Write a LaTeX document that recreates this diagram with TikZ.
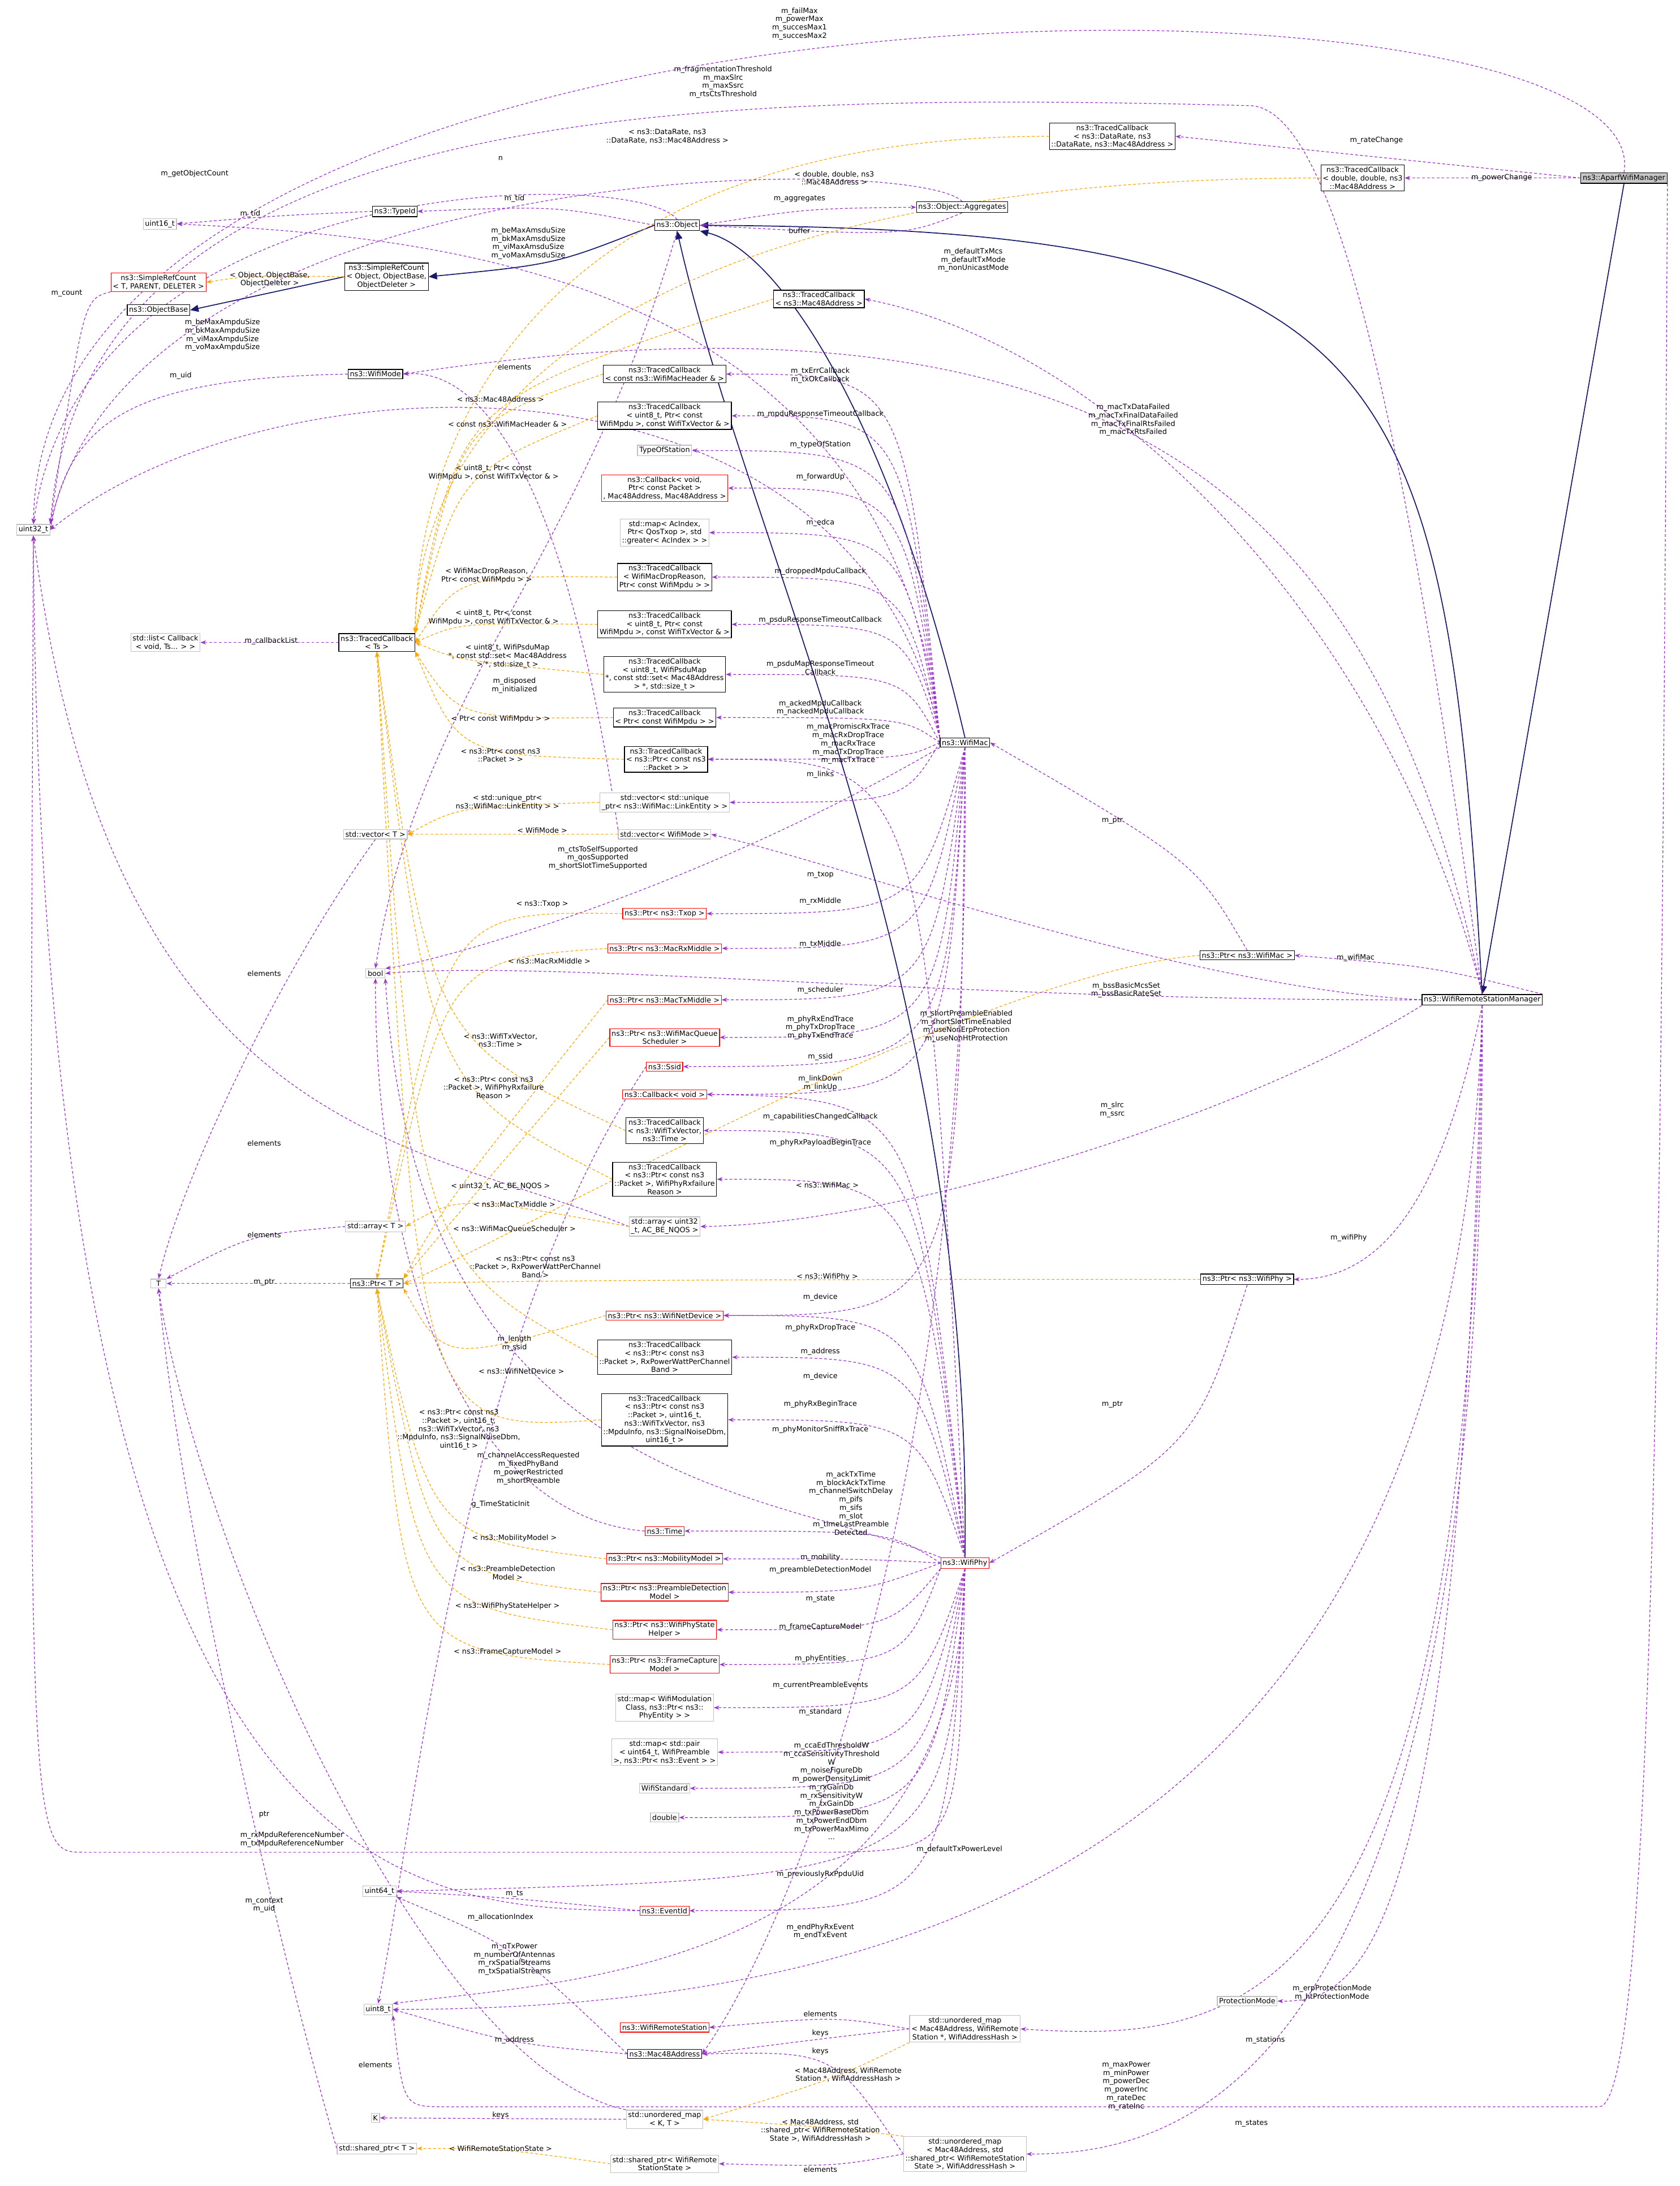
\documentclass[tikz,border=0pt]{standalone}
\usepackage{fontspec}
\setmainfont{DejaVu Sans}
\usetikzlibrary{arrows.meta}
\definecolor{ep}{HTML}{9A32CD}
\definecolor{eo}{HTML}{FFA500}
\definecolor{eb}{HTML}{191970}
\definecolor{gb}{HTML}{BFBFBF}
\pgfdeclarelayer{bg}
\pgfsetlayers{bg,main}
\tikzset{
 nb/.style={draw=black,fill=white,align=center,inner sep=1.3pt,font=\fontsize{5.2}{6}\selectfont,line width=0.5pt},
 gn/.style={nb,draw=gb},
 rn/.style={nb,draw=red},
 lab/.style={align=center,inner sep=0pt,font=\fontsize{5.2}{6}\selectfont},
 e/.style={draw=ep,dash pattern=on 2pt off 1.5pt,line width=0.5pt,-{Stealth[length=4pt,width=3pt]}},
 o/.style={e,draw=eo},
 inh/.style={draw=eb,line width=0.7pt,-{Triangle[length=6pt,width=5pt,fill=eb]}},
}
\newcommand\mm[4]{\draw[e] (#1) .. controls (#2,#3) .. (#4.east);}
\newcommand\ot[3]{\draw[o] (#1.west) .. controls (#2,#3) .. }
\begin{document}
\begin{tikzpicture}[x=1pt,y=-1pt]
\useasboundingbox (0,0) rectangle (1208,1572);
% nodes
\node[nb,fill=gray!45] (ap) at (1168,128) {ns3::AparfWifiManager};
\node[nb] (tcdr) at (800,98) {ns3::TracedCallback\\< ns3::DataRate, ns3\\::DataRate, ns3::Mac48Address >};
\node[nb] (tcdd) at (980,128) {ns3::TracedCallback\\< double, double, ns3\\::Mac48Address >};
\node[gn] (u32) at (24,381) {uint32\_t};
\node[gn] (u16) at (115,161) {uint16\_t};
\node[nb] (tid) at (284,152) {ns3::TypeId};
\node[nb] (obj) at (487,162) {ns3::Object};
\node[nb] (agg) at (692,149) {ns3::Object::Aggregates};
\node[rn] (srct) at (114,203) {ns3::SimpleRefCount\\< T, PARENT, DELETER >};
\node[nb] (src) at (278,199) {ns3::SimpleRefCount\\< Object, ObjectBase,\\ObjectDeleter >};
\node[nb] (ob) at (114,223) {ns3::ObjectBase};
\node[nb] (tcm) at (589,215) {ns3::TracedCallback\\< ns3::Mac48Address >};
\node[nb] (wmode) at (270,269) {ns3::WifiMode};
\node[nb] (tch) at (478,269) {ns3::TracedCallback\\< const ns3::WifiMacHeader \& >};
\node[nb] (tcu1) at (478,299) {ns3::TracedCallback\\< uint8\_t, Ptr< const\\ WifiMpdu >, const WifiTxVector \& >};
\node[gn] (tos) at (478,324) {TypeOfStation};
\node[rn] (cbfw) at (478,351) {ns3::Callback< void,\\ Ptr< const Packet >\\, Mac48Address, Mac48Address >};
\node[gn] (edca) at (478,383) {std::map< AcIndex,\\ Ptr< QosTxop >, std\\::greater< AcIndex > >};
\node[nb] (tcdrop) at (478,415) {ns3::TracedCallback\\< WifiMacDropReason,\\ Ptr< const WifiMpdu > >};
\node[nb] (tcu2) at (478,449) {ns3::TracedCallback\\< uint8\_t, Ptr< const\\ WifiMpdu >, const WifiTxVector \& >};
\node[nb] (tcpm) at (478,485) {ns3::TracedCallback\\< uint8\_t, WifiPsduMap\\ *, const std::set< Mac48Address\\ > *, std::size\_t >};
\node[nb] (tcmp) at (478,516) {ns3::TracedCallback\\< Ptr< const WifiMpdu > >};
\node[nb] (tcpk) at (479,546) {ns3::TracedCallback\\< ns3::Ptr< const ns3\\::Packet > >};
\node[gn] (vle) at (478,577) {std::vector< std::unique\\\_ptr< ns3::WifiMac::LinkEntity > >};
\node[gn] (vwm) at (478,600) {std::vector< WifiMode >};
\node[rn] (ptxop) at (478,657) {ns3::Ptr< ns3::Txop >};
\node[rn] (prx) at (478,682) {ns3::Ptr< ns3::MacRxMiddle >};
\node[rn] (ptx) at (478,719) {ns3::Ptr< ns3::MacTxMiddle >};
\node[rn] (psch) at (478,746) {ns3::Ptr< ns3::WifiMacQueue\\Scheduler >};
\node[rn] (ssid) at (478,767) {ns3::Ssid};
\node[rn] (cbv) at (478,787) {ns3::Callback< void >};
\node[nb] (tctv) at (478,813) {ns3::TracedCallback\\< ns3::WifiTxVector,\\ ns3::Time >};
\node[nb] (tcrf) at (478,848) {ns3::TracedCallback\\< ns3::Ptr< const ns3\\::Packet >, WifiPhyRxfailure\\Reason >};
\node[gn] (arrq) at (478,882) {std::array< uint32\\\_t, AC\_BE\_NQOS >};
\node[rn] (pnd) at (478,946) {ns3::Ptr< ns3::WifiNetDevice >};
\node[nb] (tcrp) at (478,976) {ns3::TracedCallback\\< ns3::Ptr< const ns3\\::Packet >, RxPowerWattPerChannel\\Band >};
\node[nb] (tc5) at (478,1021) {ns3::TracedCallback\\< ns3::Ptr< const ns3\\::Packet >, uint16\_t,\\ ns3::WifiTxVector, ns3\\::MpduInfo, ns3::SignalNoiseDbm,\\ uint16\_t >};
\node[rn] (time) at (478,1101) {ns3::Time};
\node[rn] (pmob) at (478,1121) {ns3::Ptr< ns3::MobilityModel >};
\node[rn] (ppd) at (478,1145) {ns3::Ptr< ns3::PreambleDetection\\Model >};
\node[rn] (pst) at (478,1172) {ns3::Ptr< ns3::WifiPhyState\\Helper >};
\node[rn] (pfc) at (478,1197) {ns3::Ptr< ns3::FrameCapture\\Model >};
\node[gn] (mpe) at (478,1228) {std::map< WifiModulation\\Class, ns3::Ptr< ns3::\\PhyEntity > >};
\node[gn] (mpp) at (478,1260) {std::map< std::pair\\< uint64\_t, WifiPreamble\\ >, ns3::Ptr< ns3::Event > >};
\node[gn] (wstd) at (478,1286) {WifiStandard};
\node[gn] (dbl) at (478,1307) {double};
\node[gn] (u64) at (273,1360) {uint64\_t};
\node[rn] (evid) at (478,1374) {ns3::EventId};
\node[gn] (u8) at (272,1445) {uint8\_t};
\node[rn] (wrs) at (478,1458) {ns3::WifiRemoteStation};
\node[nb] (mac) at (478,1477) {ns3::Mac48Address};
\node[gn] (umkt) at (478,1524) {std::unordered\_map\\< K, T >};
\node[gn] (K) at (270,1523) {K};
\node[gn] (spt) at (271,1545) {std::shared\_ptr< T >};
\node[gn] (sps) at (478,1556) {std::shared\_ptr< WifiRemote\\StationState >};
\node[nb] (tcts) at (271,462) {ns3::TracedCallback\\< Ts >};
\node[gn] (lst) at (119,462) {std::list< Callback\\< void, Ts... > >};
\node[gn] (vt) at (270,600) {std::vector< T >};
\node[gn] (bool) at (270,700) {bool};
\node[gn] (at) at (270,882) {std::array< T >};
\node[gn,minimum width=11pt] (T) at (114,923) {T};
\node[nb] (pt) at (271,923) {ns3::Ptr< T >};
\node[nb] (wm) at (694,534) {ns3::WifiMac};
\node[nb] (wrsm) at (1066,719) {ns3::WifiRemoteStationManager};
\node[nb] (pwm) at (897,687) {ns3::Ptr< ns3::WifiMac >};
\node[nb] (pwp) at (897,920) {ns3::Ptr< ns3::WifiPhy >};
\node[rn] (wp) at (694,1124) {ns3::WifiPhy};
\node[gn] (pm) at (897,1439) {ProtectionMode};
\node[gn] (ums) at (694,1459) {std::unordered\_map\\< Mac48Address, WifiRemote\\Station *, WifiAddressHash >};
\node[gn] (umst) at (694,1549) {std::unordered\_map\\< Mac48Address, std\\::shared\_ptr< WifiRemoteStation\\State >, WifiAddressHash >};

% labels
\node[lab] (l1) at (575,17) {m\_failMax\\m\_powerMax\\m\_succesMax1\\m\_succesMax2};
\node[lab] (l2) at (990,101) {m\_rateChange};
\node[lab] (l3) at (1080,128) {m\_powerChange};
\node[lab] (l4) at (810,1500) {m\_maxPower\\m\_minPower\\m\_powerDec\\m\_powerInc\\m\_rateDec\\m\_rateInc};
\node[lab] (l5) at (520,59) {m\_fragmentationThreshold\\m\_maxSlrc\\m\_maxSsrc\\m\_rtsCtsThreshold};
\node[lab] (l6) at (700,187) {m\_defaultTxMcs\\m\_defaultTxMode\\m\_nonUnicastMode};
\node[lab] (l7) at (815,302) {m\_macTxDataFailed\\m\_macTxFinalDataFailed\\m\_macTxFinalRtsFailed\\m\_macTxRtsFailed};
\node[lab] (l8) at (975,689) {m\_wifiMac};
\node[lab] (l9) at (810,712) {m\_bssBasicMcsSet\\m\_bssBasicRateSet};
\node[lab] (l10) at (695,738) {m\_shortPreambleEnabled\\m\_shortSlotTimeEnabled\\m\_useNonErpProtection\\m\_useNonHtProtection};
\node[lab] (l11) at (800,798) {m\_slrc\\m\_ssrc};
\node[lab] (l12) at (970,890) {m\_wifiPhy};
\node[lab] (l13) at (690,1330) {m\_defaultTxPowerLevel};
\node[lab] (l14) at (958,1433) {m\_erpProtectionMode\\m\_htProtectionMode};
\node[lab] (l15) at (910,1467) {m\_stations};
\node[lab] (l16) at (900,1527) {m\_states};
\node[lab] (l17) at (800,590) {m\_ptr};
\node[lab] (l18) at (800,1010) {m\_ptr};
\node[lab] (l19) at (595,852) {< ns3::WifiMac >};
\node[lab] (l20) at (595,918) {< ns3::WifiPhy >};
\node[lab] (l21) at (590,270) {m\_txErrCallback\\m\_txOkCallback};
\node[lab] (l22) at (590,298) {m\_mpduResponseTimeoutCallback};
\node[lab] (l23) at (590,320) {m\_typeOfStation};
\node[lab] (l24) at (590,343) {m\_forwardUp};
\node[lab] (l25) at (590,376) {m\_edca};
\node[lab] (l26) at (590,411) {m\_droppedMpduCallback};
\node[lab] (l27) at (590,446) {m\_psduResponseTimeoutCallback};
\node[lab] (l28) at (590,480) {m\_psduMapResponseTimeout\\Callback};
\node[lab] (l29) at (590,509) {m\_ackedMpduCallback\\m\_nackedMpduCallback};
\node[lab] (l30) at (610,535) {m\_macPromiscRxTrace\\m\_macRxDropTrace\\m\_macRxTrace\\m\_macTxDropTrace\\m\_macTxTrace};
\node[lab] (l31) at (590,557) {m\_links};
\node[lab] (l32) at (430,617) {m\_ctsToSelfSupported\\m\_qosSupported\\m\_shortSlotTimeSupported};
\node[lab] (l33) at (590,629) {m\_txop};
\node[lab] (l34) at (590,648) {m\_rxMiddle};
\node[lab] (l35) at (590,679) {m\_txMiddle};
\node[lab] (l36) at (590,712) {m\_scheduler};
\node[lab] (l37) at (590,760) {m\_ssid};
\node[lab] (l38) at (590,779) {m\_linkDown\\m\_linkUp};
\node[lab] (l39) at (590,933) {m\_device};
\node[lab] (l40) at (590,972) {m\_address};
\node[lab] (l41) at (160,241) {m\_beMaxAmpduSize\\m\_bkMaxAmpduSize\\m\_viMaxAmpduSize\\m\_voMaxAmpduSize};
\node[lab] (l42) at (380,175) {m\_beMaxAmsduSize\\m\_bkMaxAmsduSize\\m\_viMaxAmsduSize\\m\_voMaxAmsduSize};
\node[lab] (l43) at (590,803) {m\_capabilitiesChangedCallback};
\node[lab] (l44) at (590,739) {m\_phyRxEndTrace\\m\_phyTxDropTrace\\m\_phyTxEndTrace};
\node[lab] (l45) at (590,822) {m\_phyRxPayloadBeginTrace};
\node[lab] (l46) at (590,955) {m\_phyRxDropTrace};
\node[lab] (l47) at (590,990) {m\_device};
\node[lab] (l48) at (590,1010) {m\_phyRxBeginTrace};
\node[lab] (l49) at (590,1028) {m\_phyMonitorSniffRxTrace};
\node[lab] (l50) at (380,1056) {m\_channelAccessRequested\\m\_fixedPhyBand\\m\_powerRestricted\\m\_shortPreamble};
\node[lab] (l51) at (360,1082) {g\_TimeStaticInit};
\node[lab] (l52) at (612,1081) {m\_ackTxTime\\m\_blockAckTxTime\\m\_channelSwitchDelay\\m\_pifs\\m\_sifs\\m\_slot\\m\_timeLastPreamble\\Detected};
\node[lab] (l53) at (590,1120) {m\_mobility};
\node[lab] (l54) at (590,1129) {m\_preambleDetectionModel};
\node[lab] (l55) at (590,1150) {m\_state};
\node[lab] (l56) at (590,1170) {m\_frameCaptureModel};
\node[lab] (l57) at (590,1193) {m\_phyEntities};
\node[lab] (l58) at (590,1212) {m\_currentPreambleEvents};
\node[lab] (l59) at (590,1231) {m\_standard};
\node[lab] (l60) at (598,1288) {m\_ccaEdThresholdW\\m\_ccaSensitivityThreshold\\W\\m\_noiseFigureDb\\m\_powerDensityLimit\\m\_rxGainDb\\m\_rxSensitivityW\\m\_txGainDb\\m\_txPowerBaseDbm\\m\_txPowerEndDbm\\m\_txPowerMaxMimo\\...};
\node[lab] (l61) at (210,1323) {m\_rxMpduReferenceNumber\\m\_txMpduReferenceNumber};
\node[lab] (l62) at (590,1348) {m\_previouslyRxPpduUid};
\node[lab] (l63) at (590,1389) {m\_endPhyRxEvent\\m\_endTxEvent};
\node[lab] (l64) at (370,1409) {m\_nTxPower\\m\_numberOfAntennas\\m\_rxSpatialStreams\\m\_txSpatialStreams};
\node[lab] (l65) at (370,143) {m\_tid};
\node[lab] (l66) at (575,143) {m\_aggregates};
\node[lab] (l67) at (575,166) {buffer};
\node[lab] (l68) at (360,114) {n};
\node[lab] (l69) at (140,125) {m\_getObjectCount};
\node[lab] (l70) at (180,154) {m\_tid};
\node[lab] (l71) at (48,211) {m\_count};
\node[lab] (l72) at (130,270) {m\_uid};
\node[lab] (l73) at (195,461) {m\_callbackList};
\node[lab] (l74) at (190,700) {elements};
\node[lab] (l75) at (190,888) {elements};
\node[lab] (l76) at (190,922) {m\_ptr};
\node[lab] (l77) at (194,201) {< Object, ObjectBase,\\ObjectDeleter >};
\node[lab] (l78) at (480,98) {< ns3::DataRate, ns3\\::DataRate, ns3::Mac48Address >};
\node[lab] (l79) at (600,128) {< double, double, ns3\\::Mac48Address >};
\node[lab] (l80) at (360,287) {< ns3::Mac48Address >};
\node[lab] (l81) at (365,305) {< const ns3::WifiMacHeader \& >};
\node[lab] (l82) at (355,340) {< uint8\_t, Ptr< const\\ WifiMpdu >, const WifiTxVector \& >};
\node[lab] (l83) at (350,414) {< WifiMacDropReason,\\ Ptr< const WifiMpdu > >};
\node[lab] (l84) at (355,444) {< uint8\_t, Ptr< const\\ WifiMpdu >, const WifiTxVector \& >};
\node[lab] (l85) at (365,472) {< uint8\_t, WifiPsduMap\\ *, const std::set< Mac48Address\\ > *, std::size\_t >};
\node[lab] (l86) at (360,517) {< Ptr< const WifiMpdu > >};
\node[lab] (l87) at (360,543) {< ns3::Ptr< const ns3\\::Packet > >};
\node[lab] (l88) at (360,748) {< ns3::WifiTxVector,\\ ns3::Time >};
\node[lab] (l89) at (355,782) {< ns3::Ptr< const ns3\\::Packet >, WifiPhyRxfailure\\Reason >};
\node[lab] (l90) at (385,911) {< ns3::Ptr< const ns3\\::Packet >, RxPowerWattPerChannel\\Band >};
\node[lab] (l91) at (330,1028) {< ns3::Ptr< const ns3\\::Packet >, uint16\_t,\\ ns3::WifiTxVector, ns3\\::MpduInfo, ns3::SignalNoiseDbm,\\ uint16\_t >};
\node[lab] (l92) at (365,577) {< std::unique\_ptr<\\ ns3::WifiMac::LinkEntity > >};
\node[lab] (l93) at (390,597) {< WifiMode >};
\node[lab] (l94) at (360,853) {< uint32\_t, AC\_BE\_NQOS >};
\node[lab] (l95) at (390,650) {< ns3::Txop >};
\node[lab] (l96) at (395,691) {< ns3::MacRxMiddle >};
\node[lab] (l97) at (370,866) {< ns3::MacTxMiddle >};
\node[lab] (l98) at (370,884) {< ns3::WifiMacQueueScheduler >};
\node[lab] (l99) at (375,986) {< ns3::WifiNetDevice >};
\node[lab] (l100) at (370,1106) {< ns3::MobilityModel >};
\node[lab] (l101) at (365,1131) {< ns3::PreambleDetection\\Model >};
\node[lab] (l102) at (365,1155) {< ns3::WifiPhyStateHelper >};
\node[lab] (l103) at (365,1188) {< ns3::FrameCaptureModel >};
\node[lab] (l104) at (610,1492) {< Mac48Address, WifiRemote\\Station *, WifiAddressHash >};
\node[lab] (l105) at (590,1532) {< Mac48Address, std\\::shared\_ptr< WifiRemoteStation\\State >, WifiAddressHash >};
\node[lab] (l106) at (360,1545) {< WifiRemoteStationState >};
\node[lab] (l107) at (360,1521) {keys};
\node[lab] (l108) at (270,1485) {elements};
\node[lab] (l109) at (190,1305) {ptr};
\node[lab] (l110) at (370,1467) {m\_address};
\node[lab] (l111) at (590,1448) {elements};
\node[lab] (l112) at (590,1462) {keys};
\node[lab] (l113) at (590,1560) {elements};
\node[lab] (l114) at (590,1475) {keys};
\node[lab] (l115) at (370,1362) {m\_ts};
\node[lab] (l116) at (190,1370) {m\_context\\m\_uid};
\node[lab] (l117) at (360,1379) {m\_allocationIndex};
\node[lab] (l118) at (370,264) {elements};
\node[lab] (l119) at (190,822) {elements};
\node[lab] (l120) at (370,493) {m\_disposed\\m\_initialized};
\node[lab] (l121) at (370,966) {m\_length\\m\_ssid};

\begin{pgfonlayer}{bg}
\fill[white] (0,0) rectangle (1208,1572);
% AparfWifiManager
\draw[e] (ap.north) .. controls (1195,-40) and (30,-40) .. (u32.north);
\draw[e] (ap.west) -- (tcdr.east);
\draw[e] (ap.west) -- (tcdd.east);
\draw[inh] (ap.south) -- (wrsm.north);
\draw[e] (ap.south east) .. controls (1195,900) and (1190,1515) .. (1150,1515) -- (320,1515) .. controls (290,1515) .. (u8.south east);
% WifiRemoteStationManager
\draw[inh] (wrsm.north) .. controls (1040,250) and (1000,165) .. (obj.east);
\draw[e] (wrsm.north) .. controls (1010,300) and (960,80) .. (900,76) .. controls (500,66) and (60,70) .. (u32.north east);
\draw[e] (wrsm.north) .. controls (1000,400) and (850,185) .. (wmode.east);
\draw[e] (wrsm.north) .. controls (1000,450) and (800,250) .. (tcm.east);
\draw[e] (wrsm.north east) .. controls (1030,695) .. (pwm.east);
\draw[e] (wrsm.west) .. controls (850,710) and (600,620) .. (vwm.east);
\draw[e] (wrsm.west) .. controls (700,720) and (400,690) .. (bool.east);
\draw[e] (wrsm.south west) .. controls (900,800) and (650,880) .. (arrq.east);
\draw[e] (wrsm.south) .. controls (1040,850) and (1000,920) .. (pwp.east);
\draw[e] (wrsm.south) .. controls (1050,1300) and (700,1445) .. (u8.east);
\draw[e] (wrsm.south) .. controls (1050,1400) and (980,1440) .. (pm.east);
\draw[e] (wrsm.south) .. controls (1060,1450) and (900,1470) .. (ums.east);
\draw[e] (wrsm.south) .. controls (1070,1500) and (850,1549) .. (umst.east);
% Ptr<WifiMac>, Ptr<WifiPhy>
\draw[e] (pwm.north) .. controls (860,620) .. (wm.east);
\draw[e] (pwp.south) .. controls (860,1040) .. (wp.east);
\draw[o] (pwm.west) .. controls (700,700) and (350,900) .. (pt.east);
\draw[o] (pwp.west) .. controls (700,920) and (400,920) .. (pt.east);
% WifiMac
\draw[inh] (wm.north) .. controls (640,300) and (560,180) .. (obj.south east);
\draw[e] (wm.north west) .. controls (620,240) and (200,250) .. (u32.east);
\draw[e] (wm.north west) .. controls (640,190) and (300,170) .. (u16.east);
\mm{wm.north west}{650}{269}{tch}
\mm{wm.north west}{650}{299}{tcu1}
\mm{wm.north west}{650}{324}{tos}
\mm{wm.north west}{650}{351}{cbfw}
\mm{wm.north west}{650}{383}{edca}
\mm{wm.north west}{650}{415}{tcdrop}
\mm{wm.north west}{650}{449}{tcu2}
\mm{wm.west}{650}{485}{tcpm}
\mm{wm.west}{650}{516}{tcmp}
\mm{wm.west}{650}{546}{tcpk}
\mm{wm.west}{650}{577}{vle}
\draw[e] (wm.south west) .. controls (500,640) and (320,690) .. (bool.north east);
\mm{wm.south}{660}{657}{ptxop}
\mm{wm.south}{665}{682}{prx}
\mm{wm.south}{670}{719}{ptx}
\mm{wm.south}{675}{746}{psch}
\mm{wm.south}{680}{767}{ssid}
\mm{wm.south}{680}{787}{cbv}
\mm{wm.south}{690}{946}{pnd}
\draw[e] (wm.south) .. controls (700,1100) and (560,1400) .. (mac.east);
% WifiPhy
\draw[inh] (wp.north) .. controls (700,700) and (540,400) .. (obj.south);
\mm{wp.north}{660}{790}{cbv}
\mm{wp.north}{665}{546}{tcpk}
\mm{wp.north}{660}{813}{tctv}
\mm{wp.north}{660}{848}{tcrf}
\mm{wp.north}{660}{946}{pnd}
\mm{wp.north}{660}{976}{tcrp}
\mm{wp.north}{660}{1021}{tc5}
\draw[e] (wp.north west) .. controls (550,1070) and (300,1070) .. (bool.south east);
\mm{wp.west}{640}{1101}{time}
\mm{wp.west}{620}{1121}{pmob}
\mm{wp.west}{620}{1145}{ppd}
\mm{wp.south west}{640}{1172}{pst}
\mm{wp.south west}{650}{1197}{pfc}
\mm{wp.south}{660}{1228}{mpe}
\mm{wp.south}{660}{1260}{mpp}
\mm{wp.south}{665}{1286}{wstd}
\mm{wp.south}{670}{1307}{dbl}
\draw[e] (wp.south) .. controls (690,1330) .. (600,1332) -- (60,1332) .. controls (20,1332) .. (u32.south);
\draw[e] (wp.south) .. controls (680,1350) .. (u64.east);
\mm{wp.south}{680}{1374}{evid}
\draw[e] (wp.south) .. controls (690,1420) and (400,1425) .. (u8.north east);
% misc members
\draw[e] (obj.west) .. controls (400,148) .. (tid.east);
\draw[e] (obj.east) .. controls (580,150) .. (agg.west);
\draw[e] (agg.south) .. controls (650,170) .. (obj.east);
\draw[e] (agg.north) .. controls (660,110) and (100,110) .. (u32.north east);
\draw[e] (obj.north) .. controls (460,120) and (60,120) .. (u32.north);
\draw[e] (obj.south) .. controls (420,400) and (300,500) .. (bool.north);
\draw[e] (tid.west) .. controls (200,155) .. (u16.east);
\draw[inh] (obj.west) .. controls (400,190) .. (src.east);
\draw[inh] (src.west) -- (ob.east);
\draw[o] (src.west) .. controls (180,198) .. (srct.east);
\draw[e] (srct.south west) .. controls (60,215) .. (u32.north east);
\draw[e] (wmode.west) .. controls (100,272) and (50,300) .. (u32.east);
\draw[e] (vwm.north west) .. controls (400,300) and (330,266) .. (wmode.east);
\draw[e] (tcts.west) -- (lst.east);
\draw[e] (vt.south) .. controls (200,700) and (130,850) .. (T.north);
\draw[e] (at.west) .. controls (180,888) .. (T.north east);
\draw[e] (pt.west) -- (T.east);
\draw[e] (arrq.west) .. controls (300,820) and (80,820) .. (u32.south);
\draw[e] (time.west) .. controls (330,1090) and (270,900) .. (bool.south);
\draw[e] (ssid.west) .. controls (330,970) and (300,1300) .. (u8.north);
% templates -> TracedCallback<Ts>
\draw[o] (tcdr.west) .. controls (400,98) and (300,300) .. (tcts.north east);
\draw[o] (tcdd.west) .. controls (450,128) and (300,300) .. (tcts.north east);
\ot{tcm}{330}{287} (tcts.north east);
\ot{tch}{330}{305} (tcts.north east);
\ot{tcu1}{330}{340} (tcts.north east);
\ot{tcdrop}{330}{414} (tcts.east);
\ot{tcu2}{330}{448} (tcts.east);
\ot{tcpm}{330}{475} (tcts.east);
\ot{tcmp}{330}{517} (tcts.south east);
\ot{tcpk}{330}{543} (tcts.south east);
\ot{tctv}{310}{748} (tcts.south);
\ot{tcrf}{310}{782} (tcts.south);
\ot{tcrp}{300}{905} (tcts.south);
\ot{tc5}{300}{1030} (tcts.south);
% templates -> vector / array / Ptr
\ot{vle}{330}{580} (vt.east);
\ot{vwm}{330}{600} (vt.east);
\ot{arrq}{330}{860} (at.east);
\ot{ptxop}{320}{655} (pt.north);
\ot{prx}{320}{690} (pt.north);
\ot{ptx}{320}{866} (pt.north east);
\ot{psch}{320}{884} (pt.north east);
\ot{pnd}{320}{980} (pt.south east);
\ot{pmob}{310}{1106} (pt.south);
\ot{ppd}{310}{1131} (pt.south);
\ot{pst}{300}{1155} (pt.south);
\ot{pfc}{290}{1188} (pt.south);
% unordered maps
\draw[o] (ums.south west) .. controls (600,1495) .. (umkt.east);
\draw[o] (umst.north west) .. controls (600,1530) .. (umkt.east);
\draw[o] (sps.west) .. controls (360,1545) .. (spt.east);
\draw[e] (umkt.west) -- (K.east);
\draw[e] (umkt.north west) .. controls (300,1485) and (140,1100) .. (T.south);
\draw[e] (spt.west) .. controls (200,1400) and (130,1100) .. (T.south);
\draw[e] (mac.west) .. controls (370,1470) .. (u8.east);
\draw[e] (mac.west) .. controls (370,1400) .. (u64.south east);
\draw[e] (ums.west) .. controls (600,1450) .. (wrs.east);
\draw[e] (ums.west) .. controls (600,1465) .. (mac.east);
\draw[e] (umst.west) .. controls (600,1475) .. (mac.east);
\draw[e] (umst.west) .. controls (600,1558) .. (sps.east);
\draw[e] (evid.west) .. controls (370,1365) .. (u64.east);
\draw[e] (evid.west) .. controls (300,1372) and (30,1380) .. (u32.south);
\end{pgfonlayer}
\end{tikzpicture}
\end{document}
